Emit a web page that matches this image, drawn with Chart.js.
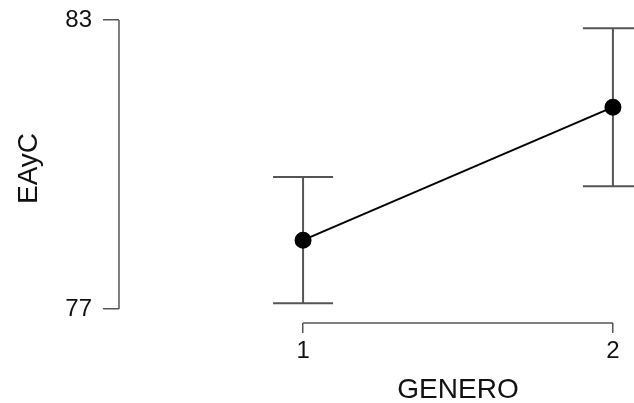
<!DOCTYPE html>
<html>
<head>
<meta charset="utf-8">
<script src="https://cdn.jsdelivr.net/npm/chart.js@4.4.1/dist/chart.umd.min.js"></script>
<style>
  html, body { margin: 0; padding: 0; background: #fff; }
  #grafico { display: block; }
</style>
</head>
<body>
<canvas id="grafico" width="634" height="403"></canvas>
<script>
// datos (medias con intervalos)
const generos = [1, 2];
const medias = [78.43, 81.19];
const limSup = [79.74, 82.83];
const limInf = [77.12, 79.55];
const ticksY = [77, 83];
const ticksX = [1, 2];
const tituloX = 'GENERO';
const tituloY = 'EAyC';

const gris = '#555';
const fuente = 'Liberation Sans, Arial, sans-serif';

// barras de error con remate horizontal
const barrasError = {
  id: 'barrasError',
  beforeDatasetsDraw(chart) {
    const ctx = chart.ctx;
    const x = chart.scales.x, y = chart.scales.y;
    ctx.save();
    ctx.strokeStyle = gris;
    ctx.lineWidth = 2;
    generos.forEach((g, i) => {
      const px = x.getPixelForValue(g);
      const y1 = y.getPixelForValue(limSup[i]);
      const y2 = y.getPixelForValue(limInf[i]);
      ctx.beginPath();
      ctx.moveTo(px, y1); ctx.lineTo(px, y2);
      ctx.moveTo(px - 30, y1); ctx.lineTo(px + 30, y1);
      ctx.moveTo(px - 30, y2); ctx.lineTo(px + 30, y2);
      ctx.stroke();
    });
    ctx.restore();
  }
};

// ejes estilo R: solo entre el primer y ultimo tick, titulos centrados en el eje
const ejesR = {
  id: 'ejesR',
  afterDraw(chart) {
    const ctx = chart.ctx;
    const x = chart.scales.x, y = chart.scales.y;
    const area = chart.chartArea;
    const x1 = x.getPixelForValue(ticksX[0]), x2 = x.getPixelForValue(ticksX[ticksX.length - 1]);
    const y1 = y.getPixelForValue(ticksY[0]), y2 = y.getPixelForValue(ticksY[ticksY.length - 1]);
    ctx.save();
    ctx.strokeStyle = gris;
    ctx.lineWidth = 1.5;
    ctx.beginPath();
    ctx.moveTo(area.left, y1);
    ctx.lineTo(area.left, y2);
    ctx.moveTo(x1, area.bottom);
    ctx.lineTo(x2, area.bottom);
    ctx.stroke();

    ctx.fillStyle = '#111';
    ctx.font = '28px ' + fuente;
    ctx.textAlign = 'center';
    ctx.textBaseline = 'alphabetic';
    ctx.fillText(tituloX, (x1 + x2) / 2, 398);

    ctx.translate(37, (y1 + y2) / 2 + 4);
    ctx.rotate(-Math.PI / 2);
    ctx.fillText(tituloY, 0, 0);
    ctx.restore();
  }
};

new Chart(document.getElementById('grafico'), {
  type: 'line',
  data: {
    datasets: [{
      data: generos.map((g, i) => ({ x: g, y: medias[i] })),
      borderColor: '#000',
      borderWidth: 2,
      pointBackgroundColor: '#000',
      pointBorderColor: '#000',
      pointRadius: 7.5,
      tension: 0
    }]
  },
  options: {
    responsive: false,
    animation: false,
    layout: { padding: 0, autoPadding: false },
    plugins: { legend: { display: false }, tooltip: { enabled: false } },
    scales: {
      x: {
        type: 'linear',
        min: 0.406,
        max: 2.068,
        afterBuildTicks: s => { s.ticks = ticksX.map(v => ({ value: v })); },
        afterFit: s => { s.height = 80; s.paddingLeft = 0; s.paddingRight = 0; },
        border: { display: false },
        grid: { drawOnChartArea: false, drawTicks: true, tickLength: 10, color: gris, lineWidth: 1.5 },
        ticks: { color: '#111', font: { family: fuente, size: 24 }, padding: 4, maxRotation: 0 }
      },
      y: {
        min: 76.71,
        max: 83.415,
        afterBuildTicks: s => { s.ticks = ticksY.map(v => ({ value: v })); },
        afterFit: s => { s.width = 119; s.paddingTop = 0; s.paddingBottom = 0; },
        border: { display: false },
        grid: { drawOnChartArea: false, drawTicks: true, tickLength: 16, color: gris, lineWidth: 1.5 },
        ticks: { color: '#111', font: { family: fuente, size: 24 }, padding: 11 }
      }
    }
  },
  plugins: [barrasError, ejesR]
});
</script>
</body>
</html>
